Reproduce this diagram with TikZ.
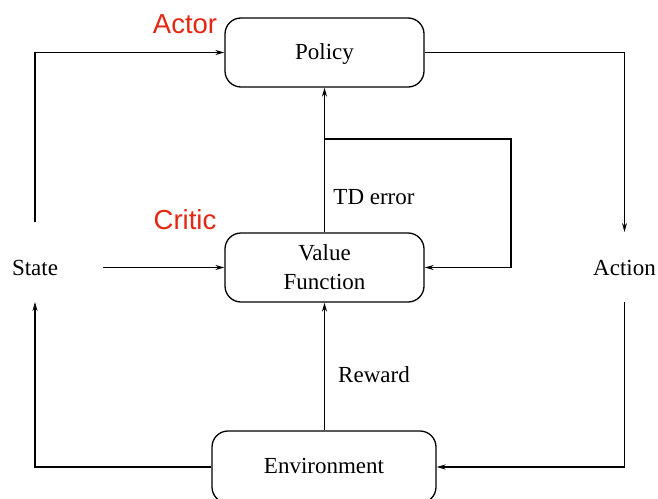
\documentclass[tikz,border=0pt]{standalone}
\usepackage{fontspec}
\setmainfont{Liberation Serif}
\newfontfamily\rolesans{Liberation Sans}
\usetikzlibrary{arrows.meta}
\definecolor{rolered}{RGB}{228,38,20}
\begin{document}
\begin{tikzpicture}[x=1pt,y=-1pt,
  block/.style={draw, line width=1.3pt, rounded corners=16pt,
    minimum width=199pt, minimum height=69pt, align=center,
    font=\fontsize{23}{29}\selectfont, inner sep=0pt},
  oneline/.style={text height=16pt, text depth=3pt},
  plain/.style={font=\fontsize{23}{29}\selectfont, inner sep=0pt},
  role/.style={text=rolered, font=\rolesans\fontsize{27.5}{32}\selectfont, inner sep=0pt},
  link/.style={line width=1.1pt, -{Stealth[length=9pt,width=5pt]}}]
  \useasboundingbox (0,0) rectangle (658,498);
  \clip (0,0) rectangle (658,498);

  % boxes
  \node[block, oneline] (policy) at (324.5,52.5) {Policy};
  \node[block] (vf) at (324.5,267.5) {Value\\Function};
  \node[block, oneline, minimum width=224pt, minimum height=72pt] (env) at (324,467) {Environment};

  % free labels
  \node[plain] (state) at (35,268) {State};
  \node[plain] (action) at (624.5,268) {Action};
  \node[plain] (td) at (374,197) {TD error};
  \node[plain] (reward) at (374,375) {Reward};
  \node[role] (actor) at (185,24) {Actor};
  \node[role] (critic) at (185,220) {Critic};

  % connector ends beside the text labels
  \coordinate (stateup) at (35,222);
  \coordinate (statedown) at (35,302);
  \coordinate (stateright) at (103,267.5);
  \coordinate (actionup) at (624.5,232);
  \coordinate (actiondown) at (624.5,302);
  \coordinate (split) at (324.5,139);
  \coordinate (tdcorner) at (511,139);

  % connectors
  \draw[link] (stateup) |- (policy.west);
  \draw[link] (stateright) -- (vf.west);
  \draw[link] (env.west) -| (statedown);
  \draw[link] (policy.east) -| (actionup);
  \draw[link] (actiondown) |- (env.east);
  \draw[link] (env.north -| vf.south) -- (vf.south);
  \draw[link] (vf.north) -- (policy.south);
  \draw[link] (split) -- (tdcorner) |- (vf.east);
\end{tikzpicture}
\end{document}
